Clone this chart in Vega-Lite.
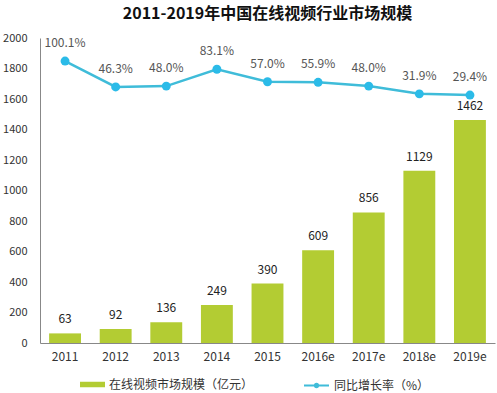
{
  "$schema": "https://vega.github.io/schema/vega-lite/v6.json",
  "autosize": "none",
  "width": 455,
  "height": 305,
  "padding": {"left": 40, "top": 38, "right": 2, "bottom": 50},
  "background": "white",
  "title": {
    "text": "2011-2019年中国在线视频行业市场规模",
    "font": "Noto Sans CJK SC",
    "fontSize": 16,
    "fontWeight": "bold",
    "color": "#111",
    "anchor": "middle",
    "offset": 10
  },
  "config": {
    "view": {"stroke": null},
    "font": "Noto Sans CJK SC"
  },
  "data": {
    "values": [
      {"year": "2011", "size": 63, "rate": 100.1, "rateLabel": "100.1%"},
      {"year": "2012", "size": 92, "rate": 46.3, "rateLabel": "46.3%"},
      {"year": "2013", "size": 136, "rate": 48.0, "rateLabel": "48.0%"},
      {"year": "2014", "size": 249, "rate": 83.1, "rateLabel": "83.1%"},
      {"year": "2015", "size": 390, "rate": 57.0, "rateLabel": "57.0%"},
      {"year": "2016e", "size": 609, "rate": 55.9, "rateLabel": "55.9%"},
      {"year": "2017e", "size": 856, "rate": 48.0, "rateLabel": "48.0%"},
      {"year": "2018e", "size": 1129, "rate": 31.9, "rateLabel": "31.9%"},
      {"year": "2019e", "size": 1462, "rate": 29.4, "rateLabel": "29.4%"}
    ]
  },
  "encoding": {
    "x": {
      "field": "year",
      "type": "ordinal",
      "sort": null,
      "scale": {"paddingInner": 0.37, "paddingOuter": 0.18},
      "axis": {
        "title": null,
        "labelAngle": 0,
        "labelFontSize": 12,
        "labelColor": "#333",
        "labelPadding": 8,
        "ticks": false,
        "domainColor": "#888",
        "domainWidth": 1
      }
    }
  },
  "layer": [
    {
      "encoding": {
        "y": {
          "field": "size",
          "type": "quantitative",
          "scale": {"domain": [0, 2000]},
          "axis": {
            "title": null,
            "values": [0, 200, 400, 600, 800, 1000, 1200, 1400, 1600, 1800, 2000],
            "format": "d",
            "grid": false,
            "ticks": false,
            "labelFontSize": 11,
            "labelColor": "#333",
            "labelPadding": 13,
            "domainColor": "#888",
            "domainWidth": 1
          }
        }
      },
      "layer": [
        {
          "mark": {"type": "bar", "color": "#b3cc33"},
          "encoding": {
            "fill": {
              "datum": "在线视频市场规模（亿元）",
              "scale": {"range": ["#b3cc33"]},
              "legend": {
                "title": null,
                "orient": "none",
                "legendX": 40,
                "legendY": 334,
                "symbolType": "M-1,-0.22H1V0.22H-1Z",
                "symbolSize": 625,
                "symbolStrokeWidth": 0,
                "labelFontSize": 12,
                "labelColor": "#333",
                "labelOffset": 4
              }
            }
          }
        },
        {
          "mark": {"type": "text", "baseline": "bottom", "dy": -7, "fontSize": 12, "color": "#222"},
          "encoding": {"text": {"field": "size", "type": "quantitative"}}
        }
      ]
    },
    {
      "encoding": {
        "y": {
          "field": "rate",
          "type": "quantitative",
          "scale": {"domain": [-486, 148]},
          "axis": null
        }
      },
      "layer": [
        {
          "mark": {"type": "line", "strokeWidth": 2.5},
          "encoding": {
            "stroke": {
              "datum": "同比增长率（%）",
              "scale": {"range": ["#3fbcd9"]},
              "legend": {
                "title": null,
                "orient": "none",
                "legendX": 263,
                "legendY": 334,
                "symbolType": "M-1,0H1M0.14,0A0.14,0.14 0 1,1 -0.14,0A0.14,0.14 0 1,1 0.14,0Z",
                "symbolSize": 625,
                "symbolStrokeWidth": 2,
                "symbolFillColor": "#3fbcd9",
                "labelFontSize": 12,
                "labelColor": "#333",
                "labelOffset": 4
              }
            }
          }
        },
        {
          "mark": {"type": "point", "filled": true, "size": 80, "color": "#2bbbe8", "opacity": 1}
        },
        {
          "mark": {"type": "text", "baseline": "middle", "dy": -18, "fontSize": 12, "color": "#555"},
          "encoding": {"text": {"field": "rateLabel"}}
        }
      ]
    }
  ],
  "resolve": {"scale": {"y": "independent"}}
}
